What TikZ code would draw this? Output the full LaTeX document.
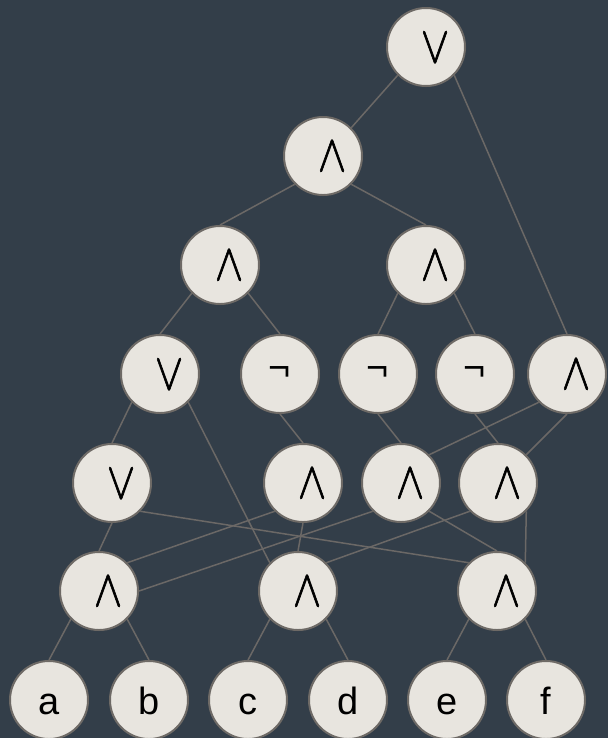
\documentclass[tikz,border=0pt]{standalone}
\usepackage{fontspec}
\setmainfont{Liberation Sans}
\newfontfamily\opsfont[FakeStretch=0.86, FakeBold=1.2]{latinmodern-math.otf}
\usetikzlibrary{backgrounds}

\definecolor{bgslate}{HTML}{333E49}
\definecolor{vertexfill}{HTML}{E8E5DF}
\definecolor{vertexline}{HTML}{6E6A66}
\definecolor{wiregray}{HTML}{6B6866}

\begin{document}
\begin{tikzpicture}[
        x=0.025cm, y=-0.025cm,
        vertex/.style={circle, draw=vertexline, fill=vertexfill, line width=0.05cm, minimum size=1.95cm, inner sep=0pt},
        gate/.style={vertex, font=\opsfont\fontsize{37}{40}\selectfont, execute at begin node={\hspace*{0.45cm}}},
        inv/.style={vertex, font=\fontsize{27}{32}\selectfont},
        leaf/.style={vertex, font=\fontsize{27}{32}\selectfont, text height=21pt, text depth=0pt},
        wire/.style={draw=wiregray, line width=0.0375cm}
    ]
        \useasboundingbox (0,0) rectangle (608,738);

        \node[gate] (root) at (426, 47) {∨};

        \node[gate] (conj) at (323, 156) {∧};

        \node[gate] (conjl) at (220, 265) {∧};
        \node[gate] (conjr) at (426, 265) {∧};

        \node[gate] (disjl) at (160, 374) {∨};
        \node[inv] (negl) at (280, 374) {¬};
        \node[inv] (negm) at (378, 374) {¬};
        \node[inv] (negr) at (475, 374) {¬};
        \node[gate] (conjrr) at (567, 374) {∧};

        \node[gate] (disjll) at (112, 483) {∨};
        \node[gate] (midl) at (303, 483) {∧};
        \node[gate] (midm) at (401, 483) {∧};
        \node[gate] (midr) at (498, 483) {∧};

        \node[gate] (lowl) at (99, 591) {∧};
        \node[gate] (lowm) at (298, 591) {∧};
        \node[gate] (lowr) at (497, 591) {∧};

        \node[leaf] (a) at (49, 700) {a};
        \node[leaf] (b) at (149, 700) {b};
        \node[leaf] (c) at (248, 700) {c};
        \node[leaf] (d) at (348, 700) {d};
        \node[leaf] (e) at (447, 700) {e};
        \node[leaf] (f) at (546, 700) {f};

        \begin{scope}[on background layer]
        \fill[bgslate] (0,0) rectangle (608,738);

        \draw[wire] (root.-135) -- (conj.45);
        \draw[wire] (root.-45) -- (conjrr.north);
        \draw[wire] (conj.-135) -- (conjl.north);
        \draw[wire] (conj.-45) -- (conjr.north);

        \draw[wire] (conjl.-135) -- (disjl.north);
        \draw[wire] (conjl.-45) -- (negl.north);
        \draw[wire] (conjr.-135) -- (negm.north);
        \draw[wire] (conjr.-45) -- (negr.north);

        \draw[wire] (disjl.-135) -- (disjll.north);
        \draw[wire] (disjl.-45) -- (lowm.135);
        \draw[wire] (negl.south) -- (midl.north);
        \draw[wire] (negm.south) -- (midm.north);
        \draw[wire] (negr.south) -- (midr.north);
        \draw[wire] (conjrr.-135) -- (midm.45);
        \draw[wire] (conjrr.south) -- (midr.45);

        \draw[wire] (disjll.south) -- (lowl.north);
        \draw[wire] (disjll.-45) -- (lowr.135);
        \draw[wire] (midl.-135) -- (lowl.45);
        \draw[wire] (midl.south) -- (lowm.north);
        \draw[wire] (midm.-135) -- (lowl.east);
        \draw[wire] (midm.-45) -- (lowr.north);
        \draw[wire] (midr.-135) -- (lowm.45);
        \draw[wire] (midr.-45) -- (lowr.45);

        \draw[wire] (lowl.-135) -- (a.north);
        \draw[wire] (lowl.-45) -- (b.north);
        \draw[wire] (lowm.-135) -- (c.north);
        \draw[wire] (lowm.-45) -- (d.north);
        \draw[wire] (lowr.-135) -- (e.north);
        \draw[wire] (lowr.-45) -- (f.north);
        \end{scope}
    \end{tikzpicture}
\end{document}
